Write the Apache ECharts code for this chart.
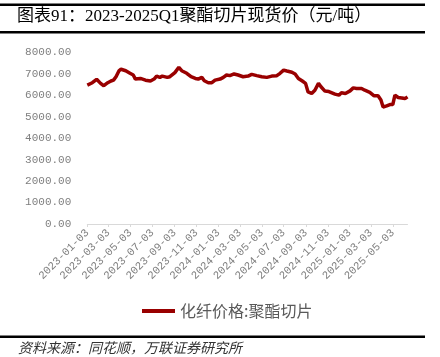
<!DOCTYPE html>
<html>
<head>
<meta charset="utf-8">
<script src="https://cdn.jsdelivr.net/npm/echarts@6/dist/echarts.min.js"></script>
<style>
html,body{margin:0;padding:0;background:#fff;}
#c{width:440px;height:357px;}
</style>
</head>
<body>
<div id="c"></div>
<script>
// ---- data ----
var startDate = '2023-01-03';
var endDate = '2025-06-13';
var priceDates = [
 '2023-01-03','2023-01-17','2023-01-29','2023-02-09','2023-02-18','2023-03-01','2023-03-10','2023-03-17',
 '2023-03-24','2023-04-01','2023-04-07','2023-04-20','2023-05-02','2023-05-11','2023-05-17','2023-05-31',
 '2023-06-14','2023-06-28','2023-07-08','2023-07-15','2023-07-24','2023-07-31','2023-08-14','2023-08-21',
 '2023-09-04','2023-09-15','2023-09-23','2023-10-07','2023-10-19','2023-10-31','2023-11-08','2023-11-18',
 '2023-11-25','2023-12-06','2023-12-16','2023-12-25','2024-01-08','2024-01-17','2024-01-26','2024-02-04',
 '2024-02-16','2024-02-27','2024-03-12','2024-03-26','2024-04-05','2024-04-19','2024-05-03','2024-05-17',
 '2024-05-31','2024-06-14','2024-06-23','2024-07-03','2024-07-12','2024-07-26','2024-08-04','2024-08-13',
 '2024-08-24','2024-09-02','2024-09-09','2024-09-19','2024-09-28','2024-10-08','2024-10-15','2024-10-26',
 '2024-11-06','2024-11-23','2024-12-04','2024-12-11','2024-12-22','2025-01-04','2025-01-13','2025-01-22',
 '2025-02-05','2025-02-14','2025-02-28','2025-03-12','2025-03-23','2025-03-31','2025-04-06','2025-04-16',
 '2025-04-25','2025-05-03','2025-05-09','2025-05-18','2025-05-28','2025-06-06','2025-06-13'
];
var priceValues = [
 6480,6590,6750,6560,6450,6590,6670,6710,
 6870,7140,7220,7150,7030,6950,6760,6790,
 6710,6670,6760,6900,6840,6900,6840,6870,
 7060,7310,7150,7030,6870,6790,6760,6840,
 6680,6590,6590,6710,6760,6840,6950,6920,
 7000,6950,6870,6900,6980,6920,6870,6840,
 6900,6920,7030,7180,7140,7080,7000,6790,
 6670,6560,6160,6090,6240,6560,6400,6200,
 6180,6060,6010,6120,6090,6210,6350,6320,
 6320,6240,6140,5980,5980,5780,5460,5510,
 5570,5570,6010,5900,5880,5850,5930
];
var seriesName = '化纤价格:聚酯切片';
var yTicks = [0,1000,2000,3000,4000,5000,6000,7000,8000];

// ---- build daily category axis ----
function fmt(d){
  var m = d.getUTCMonth()+1, dd = d.getUTCDate();
  return d.getUTCFullYear()+'-'+(m<10?'0':'')+m+'-'+(dd<10?'0':'')+dd;
}
var categories = [];
var d = new Date(startDate+'T00:00:00Z'), e = new Date(endDate+'T00:00:00Z');
while (d <= e) { categories.push(fmt(d)); d = new Date(d.getTime()+86400000); }
var lookup = {};
priceDates.forEach(function(s,i){ lookup[s]=priceValues[i]; });
var seriesData = categories.map(function(c){ return lookup.hasOwnProperty(c) ? lookup[c] : null; });

function showTick(idx, val){
  var m = parseInt(val.substr(5,2),10), dd = val.substr(8,2);
  return dd === '03' && (m % 2 === 1);
}

var chart = echarts.init(document.getElementById('c'), null, {renderer:'canvas'});
chart.setOption({
  animation:false,
  backgroundColor:'#fff',
  grid:{left:87.3, right:32.5, top:52.5, bottom:133, containLabel:false},
  xAxis:{
    type:'category', data:categories, boundaryGap:false,
    axisLine:{show:true, lineStyle:{color:'#d9d9d9', width:1}},
    axisTick:{show:true, interval:showTick, length:3, lineStyle:{color:'#d9d9d9'}},
    axisLabel:{interval:showTick, rotate:45, margin:7, color:'#808080',
      fontFamily:'Liberation Mono', fontSize:11},
    splitLine:{show:false}
  },
  yAxis:{
    type:'value', min:yTicks[0], max:yTicks[yTicks.length-1], interval:1000,
    axisLine:{show:false}, axisTick:{show:false}, splitLine:{show:false},
    axisLabel:{margin:16, color:'#7f7f7f', fontFamily:'Liberation Mono', fontSize:11,
      formatter:function(v){ return v.toFixed(2); }}
  },
  legend:{
    data:[seriesName], bottom:33, left:137, itemWidth:33, itemHeight:4, itemGap:3,
    icon:'rect',
    textStyle:{color:'#595959', fontSize:16, fontFamily:'Noto Sans CJK SC'}
  },
  series:[{
    name:seriesName, type:'line', data:seriesData, connectNulls:true,
    showSymbol:false, symbol:'none',
    lineStyle:{color:'#990000', width:3.5}, itemStyle:{color:'#990000'}
  }],
  graphic:[
    {type:'rect', shape:{x:0,y:3.5,width:425,height:2.5}, style:{fill:'#000'}},
    {type:'rect', shape:{x:0,y:31,width:425,height:2.5}, style:{fill:'#000'}},
    {type:'text', left:17, top:8, style:{text:'图表91：2023-2025Q1聚酯切片现货价（元/吨）',
      fill:'#000', fontSize:17, fontFamily:'Liberation Serif, Noto Sans CJK SC'}},
    {type:'rect', shape:{x:0,y:335.5,width:425,height:2.5}, style:{fill:'#000'}},
    {type:'text', left:18, top:341, style:{text:'资料来源：同花顺，万联证券研究所',
      fill:'#333', fontSize:14, fontStyle:'italic', fontFamily:'Noto Sans CJK SC'}}
  ]
});
</script>
</body>
</html>
